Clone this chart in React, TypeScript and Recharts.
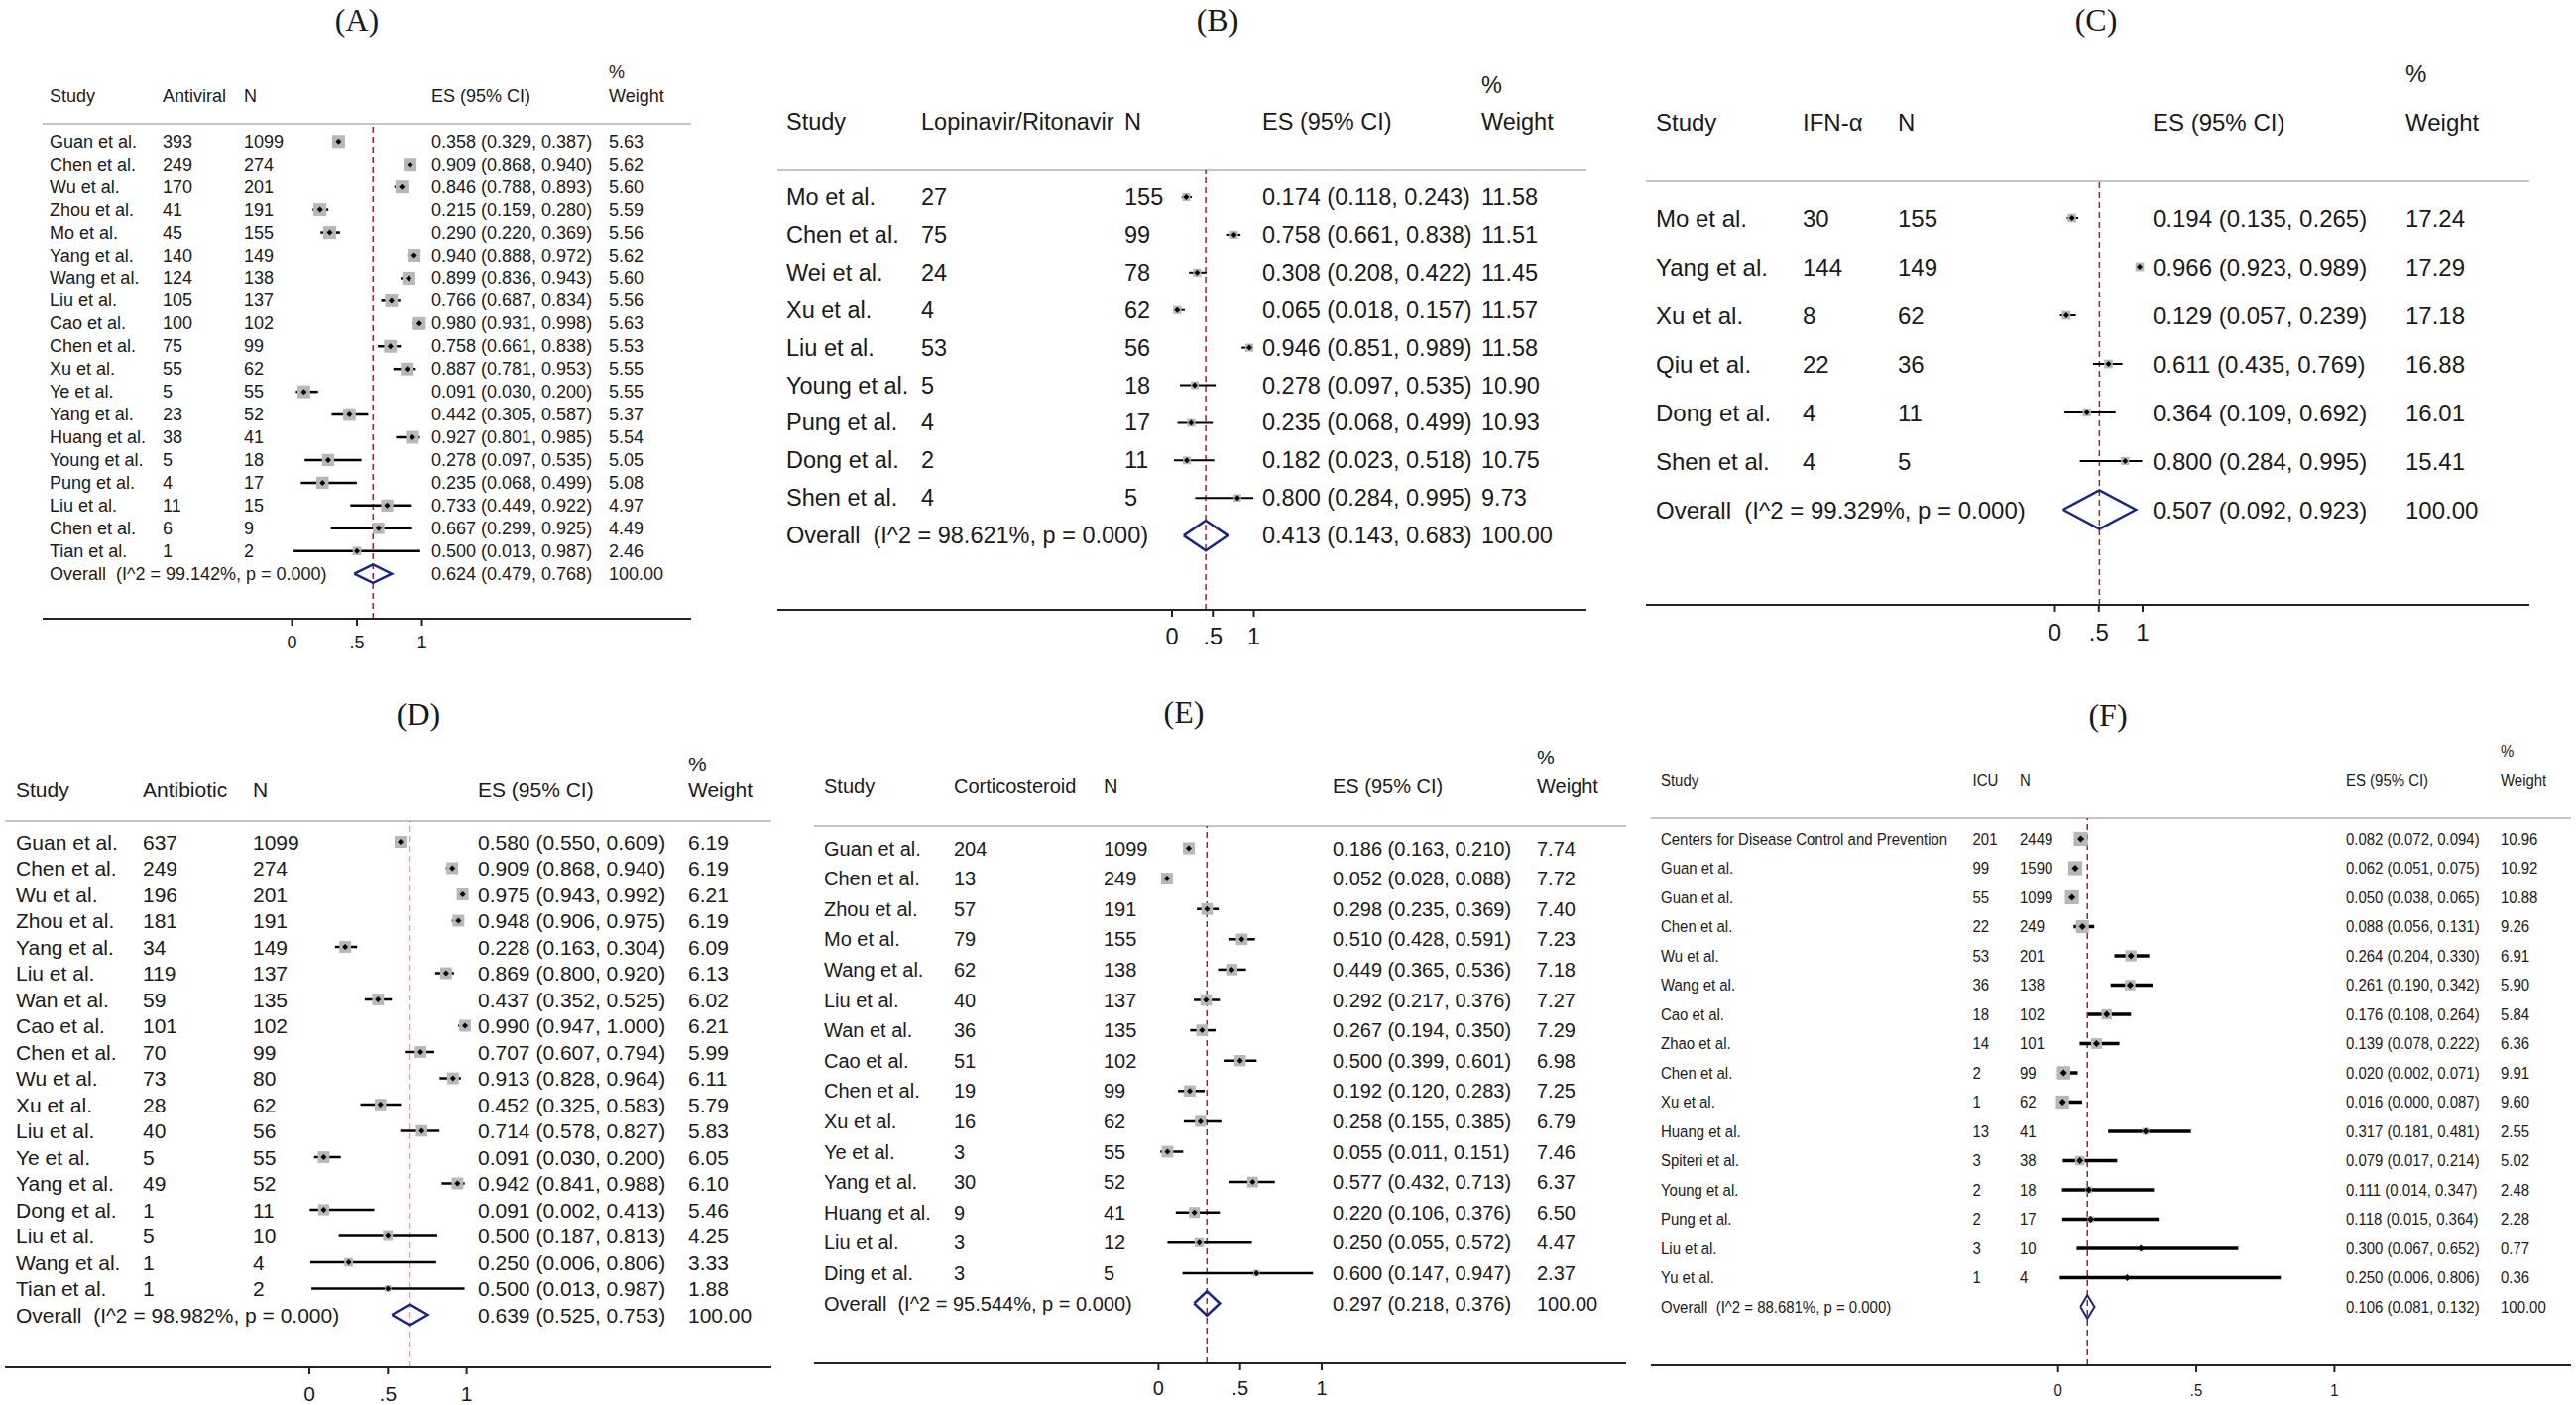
import React from "react";
import { ComposedChart, Scatter, XAxis, YAxis, ErrorBar, ReferenceLine } from "recharts";

// (A) Antiviral
const studiesA = ["Guan et al.", "Chen et al.", "Wu et al.", "Zhou et al.", "Mo et al.", "Yang et al.", "Wang et al.", "Liu et al.", "Cao et al.", "Chen et al.", "Xu et al.", "Ye et al.", "Yang et al.", "Huang et al.", "Young et al.", "Pung et al.", "Liu et al.", "Chen et al.", "Tian et al."];
const eventsA = [393, 249, 170, 41, 45, 140, 124, 105, 100, 75, 55, 5, 23, 38, 5, 4, 11, 6, 1];
const totalsA = [1099, 274, 201, 191, 155, 149, 138, 137, 102, 99, 62, 55, 52, 41, 18, 17, 15, 9, 2];
const esA = [0.358, 0.909, 0.846, 0.215, 0.29, 0.94, 0.899, 0.766, 0.98, 0.758, 0.887, 0.091, 0.442, 0.927, 0.278, 0.235, 0.733, 0.667, 0.5];
const lowA = [0.329, 0.868, 0.788, 0.159, 0.22, 0.888, 0.836, 0.687, 0.931, 0.661, 0.781, 0.03, 0.305, 0.801, 0.097, 0.068, 0.449, 0.299, 0.013];
const highA = [0.387, 0.94, 0.893, 0.28, 0.369, 0.972, 0.943, 0.834, 0.998, 0.838, 0.953, 0.2, 0.587, 0.985, 0.535, 0.499, 0.922, 0.925, 0.987];
const weightA = [5.63, 5.62, 5.6, 5.59, 5.56, 5.62, 5.6, 5.56, 5.63, 5.53, 5.55, 5.55, 5.37, 5.54, 5.05, 5.08, 4.97, 4.49, 2.46];
const overallA = [0.624, 0.479, 0.768];
const i2A = "99.142";

// (B) Lopinavir/Ritonavir
const studiesB = ["Mo et al.", "Chen et al.", "Wei et al.", "Xu et al.", "Liu et al.", "Young et al.", "Pung et al.", "Dong et al.", "Shen et al."];
const eventsB = [27, 75, 24, 4, 53, 5, 4, 2, 4];
const totalsB = [155, 99, 78, 62, 56, 18, 17, 11, 5];
const esB = [0.174, 0.758, 0.308, 0.065, 0.946, 0.278, 0.235, 0.182, 0.8];
const lowB = [0.118, 0.661, 0.208, 0.018, 0.851, 0.097, 0.068, 0.023, 0.284];
const highB = [0.243, 0.838, 0.422, 0.157, 0.989, 0.535, 0.499, 0.518, 0.995];
const weightB = [11.58, 11.51, 11.45, 11.57, 11.58, 10.9, 10.93, 10.75, 9.73];
const overallB = [0.413, 0.143, 0.683];
const i2B = "98.621";

// (C) IFN-α
const studiesC = ["Mo et al.", "Yang et al.", "Xu et al.", "Qiu et al.", "Dong et al.", "Shen et al."];
const eventsC = [30, 144, 8, 22, 4, 4];
const totalsC = [155, 149, 62, 36, 11, 5];
const esC = [0.194, 0.966, 0.129, 0.611, 0.364, 0.8];
const lowC = [0.135, 0.923, 0.057, 0.435, 0.109, 0.284];
const highC = [0.265, 0.989, 0.239, 0.769, 0.692, 0.995];
const weightC = [17.24, 17.29, 17.18, 16.88, 16.01, 15.41];
const overallC = [0.507, 0.092, 0.923];
const i2C = "99.329";

// (D) Antibiotic
const studiesD = ["Guan et al.", "Chen et al.", "Wu et al.", "Zhou et al.", "Yang et al.", "Liu et al.", "Wan et al.", "Cao et al.", "Chen et al.", "Wu et al.", "Xu et al.", "Liu et al.", "Ye et al.", "Yang et al.", "Dong et al.", "Liu et al.", "Wang et al.", "Tian et al."];
const eventsD = [637, 249, 196, 181, 34, 119, 59, 101, 70, 73, 28, 40, 5, 49, 1, 5, 1, 1];
const totalsD = [1099, 274, 201, 191, 149, 137, 135, 102, 99, 80, 62, 56, 55, 52, 11, 10, 4, 2];
const esD = [0.58, 0.909, 0.975, 0.948, 0.228, 0.869, 0.437, 0.99, 0.707, 0.913, 0.452, 0.714, 0.091, 0.942, 0.091, 0.5, 0.25, 0.5];
const lowD = [0.55, 0.868, 0.943, 0.906, 0.163, 0.8, 0.352, 0.947, 0.607, 0.828, 0.325, 0.578, 0.03, 0.841, 0.002, 0.187, 0.006, 0.013];
const highD = [0.609, 0.94, 0.992, 0.975, 0.304, 0.92, 0.525, 1.0, 0.794, 0.964, 0.583, 0.827, 0.2, 0.988, 0.413, 0.813, 0.806, 0.987];
const weightD = [6.19, 6.19, 6.21, 6.19, 6.09, 6.13, 6.02, 6.21, 5.99, 6.11, 5.79, 5.83, 6.05, 6.1, 5.46, 4.25, 3.33, 1.88];
const overallD = [0.639, 0.525, 0.753];
const i2D = "98.982";

// (E) Corticosteroid
const studiesE = ["Guan et al.", "Chen et al.", "Zhou et al.", "Mo et al.", "Wang et al.", "Liu et al.", "Wan et al.", "Cao et al.", "Chen et al.", "Xu et al.", "Ye et al.", "Yang et al.", "Huang et al.", "Liu et al.", "Ding et al."];
const eventsE = [204, 13, 57, 79, 62, 40, 36, 51, 19, 16, 3, 30, 9, 3, 3];
const totalsE = [1099, 249, 191, 155, 138, 137, 135, 102, 99, 62, 55, 52, 41, 12, 5];
const esE = [0.186, 0.052, 0.298, 0.51, 0.449, 0.292, 0.267, 0.5, 0.192, 0.258, 0.055, 0.577, 0.22, 0.25, 0.6];
const lowE = [0.163, 0.028, 0.235, 0.428, 0.365, 0.217, 0.194, 0.399, 0.12, 0.155, 0.011, 0.432, 0.106, 0.055, 0.147];
const highE = [0.21, 0.088, 0.369, 0.591, 0.536, 0.376, 0.35, 0.601, 0.283, 0.385, 0.151, 0.713, 0.376, 0.572, 0.947];
const weightE = [7.74, 7.72, 7.4, 7.23, 7.18, 7.27, 7.29, 6.98, 7.25, 6.79, 7.46, 6.37, 6.5, 4.47, 2.37];
const overallE = [0.297, 0.218, 0.376];
const i2E = "95.544";

// (F) ICU
const studiesF = ["Centers for Disease Control and Prevention", "Guan et al.", "Guan et al.", "Chen et al.", "Wu et al.", "Wang et al.", "Cao et al.", "Zhao et al.", "Chen et al.", "Xu et al.", "Huang et al.", "Spiteri et al.", "Young et al.", "Pung et al.", "Liu et al.", "Yu et al."];
const eventsF = [201, 99, 55, 22, 53, 36, 18, 14, 2, 1, 13, 3, 2, 2, 3, 1];
const totalsF = [2449, 1590, 1099, 249, 201, 138, 102, 101, 99, 62, 41, 38, 18, 17, 10, 4];
const esF = [0.082, 0.062, 0.05, 0.088, 0.264, 0.261, 0.176, 0.139, 0.02, 0.016, 0.317, 0.079, 0.111, 0.118, 0.3, 0.25];
const lowF = [0.072, 0.051, 0.038, 0.056, 0.204, 0.19, 0.108, 0.078, 0.002, 0.0, 0.181, 0.017, 0.014, 0.015, 0.067, 0.006];
const highF = [0.094, 0.075, 0.065, 0.131, 0.33, 0.342, 0.264, 0.222, 0.071, 0.087, 0.481, 0.214, 0.347, 0.364, 0.652, 0.806];
const weightF = [10.96, 10.92, 10.88, 9.26, 6.91, 5.9, 5.84, 6.36, 9.91, 9.6, 2.55, 5.02, 2.48, 2.28, 0.77, 0.36];
const overallF = [0.106, 0.081, 0.132];
const i2F = "88.681";

const pValue = "0.000";
const xTicks = [0, 0.5, 1];

const SANS = "'Liberation Sans', Arial, Helvetica, sans-serif";
const SERIF = "'Liberation Serif', 'Times New Roman', serif";
const INK = "#1a1a1a";

type Layout = {
  left: number; right: number; top: number; bottom: number;
  headY: number; axisY: number; row0: number; rowGap: number;
  zeroX: number; unit: number; cols: number[];
  headerY: number; pctY: number; titleX: number; titleY: number; tickY: number;
  font: number; squeeze: number; boxK: number; ciW: number; dot: number; diaW: number;
};

type Panel = {
  title: string; group: string; studies: string[]; events: number[]; totals: number[];
  es: number[]; low: number[]; high: number[]; weight: number[]; overall: number[]; i2: string;
  layout: Layout;
};

const Txt = ({ x, y, size, squeeze = 1, anchor = "start", family = SANS, children }: any) => (
  <text
    transform={`translate(${x},${y}) scale(${squeeze},1)`}
    fontSize={size}
    fontFamily={family}
    fill={INK}
    textAnchor={anchor}
    dominantBaseline="central"
    style={{ whiteSpace: "pre" }}
  >
    {children}
  </text>
);

const Forest = ({ p }: { p: Panel }) => {
  const L = p.layout;
  const W = L.right - L.left;
  const H = L.bottom - L.top;
  const n = p.studies.length;
  const fmt = (v: number) => v.toFixed(3);

  const rows = p.studies.map((s, i) => ({
    x: p.es[i],
    y: i,
    study: s,
    ev: String(p.events[i]),
    tot: String(p.totals[i]),
    ci: `${fmt(p.es[i])} (${fmt(p.low[i])}, ${fmt(p.high[i])})`,
    wt: p.weight[i].toFixed(2),
    w: p.weight[i],
    err: [p.es[i] - p.low[i], p.high[i] - p.es[i]],
  }));
  const [oe, ol, oh] = p.overall;
  const labelRows = [
    ...rows,
    { x: oe, y: n, study: `Overall  (I^2 = ${p.i2}%, p = ${pValue})`, ev: "", tot: "", ci: `${fmt(oe)} (${fmt(ol)}, ${fmt(oh)})`, wt: "100.00" },
  ];
  const diamond = [
    { x: ol, y: n },
    { x: oe, y: n - 0.4 },
    { x: oh, y: n },
    { x: oe, y: n + 0.4 },
    { x: ol, y: n },
  ];

  const xDomain = [(L.left - L.zeroX) / L.unit, (L.right - L.zeroX) / L.unit];
  const yDomain = [(L.headY - L.row0) / L.rowGap, (L.axisY - L.row0) / L.rowGap];
  const col = L.cols.map((c) => c - L.left);
  const fs = L.font;
  const sq = L.squeeze;

  const labelShape = (props: any) => {
    const { cy, payload } = props;
    return (
      <g>
        <Txt x={col[0]} y={cy} size={fs} squeeze={sq}>{payload.study}</Txt>
        <Txt x={col[1]} y={cy} size={fs} squeeze={sq}>{payload.ev}</Txt>
        <Txt x={col[2]} y={cy} size={fs} squeeze={sq}>{payload.tot}</Txt>
        <Txt x={col[3]} y={cy} size={fs} squeeze={sq}>{payload.ci}</Txt>
        <Txt x={col[4]} y={cy} size={fs} squeeze={sq}>{payload.wt}</Txt>
      </g>
    );
  };

  const boxShape = (props: any) => {
    const { cx, cy, payload } = props;
    const s = L.boxK * Math.sqrt(payload.w);
    return <rect x={cx - s / 2} y={cy - s / 2} width={s} height={s} fill="#b7b7b7" />;
  };

  const dotShape = (props: any) => {
    const { cx, cy } = props;
    const d = L.dot;
    return <polygon points={`${cx - d},${cy} ${cx},${cy - d} ${cx + d},${cy} ${cx},${cy + d}`} fill="#000" />;
  };

  const tick = (t: any) => (
    <Txt x={t.x} y={t.y} size={fs} squeeze={sq} anchor="middle">
      {t.payload.value === 0.5 ? ".5" : String(t.payload.value)}
    </Txt>
  );

  return (
    <div style={{ position: "absolute", left: L.left, top: L.top, width: W, height: H }}>
      <ComposedChart width={W} height={H} margin={{ top: L.headY - L.top, right: 0, bottom: 0, left: 0 }}>
        <XAxis
          type="number"
          dataKey="x"
          domain={xDomain}
          allowDataOverflow
          ticks={xTicks}
          interval={0}
          height={L.bottom - L.axisY}
          tickSize={7}
          tickMargin={L.tickY - L.axisY - 7}
          axisLine={{ stroke: "#222", strokeWidth: 2 }}
          tickLine={{ stroke: "#222", strokeWidth: 2 }}
          tick={tick}
        />
        <YAxis type="number" dataKey="y" domain={yDomain} allowDataOverflow reversed hide />
        <ReferenceLine y={yDomain[0]} ifOverflow="visible" stroke="#c4c4c4" strokeWidth={2} />
        <ReferenceLine x={oe} ifOverflow="visible" stroke="#9b2335" strokeWidth={1.5} strokeDasharray="6 4" />
        <Scatter data={labelRows} shape={labelShape} isAnimationActive={false} />
        <Scatter data={rows} shape={boxShape} isAnimationActive={false} />
        <Scatter data={rows} shape={dotShape} isAnimationActive={false}>
          <ErrorBar dataKey="err" direction="x" width={0} stroke="#000" strokeWidth={L.ciW} isAnimationActive={false} />
        </Scatter>
        <Scatter
          data={diamond}
          line={{ stroke: "#1c2580", strokeWidth: L.diaW }}
          lineJointType="linear"
          shape={() => <g />}
          isAnimationActive={false}
        />
      </ComposedChart>
      <svg width={W} height={H} style={{ position: "absolute", left: 0, top: 0, pointerEvents: "none" }}>
        <Txt x={L.titleX - L.left} y={L.titleY - L.top} size={32} family={SERIF} anchor="middle">{p.title}</Txt>
        <Txt x={col[0]} y={L.headerY - L.top} size={fs} squeeze={sq}>Study</Txt>
        <Txt x={col[1]} y={L.headerY - L.top} size={fs} squeeze={sq}>{p.group}</Txt>
        <Txt x={col[2]} y={L.headerY - L.top} size={fs} squeeze={sq}>N</Txt>
        <Txt x={col[3]} y={L.headerY - L.top} size={fs} squeeze={sq}>ES (95% CI)</Txt>
        <Txt x={col[4]} y={L.pctY - L.top} size={fs} squeeze={sq}>%</Txt>
        <Txt x={col[4]} y={L.headerY - L.top} size={fs} squeeze={sq}>Weight</Txt>
      </svg>
    </div>
  );
};

const layoutA: Layout = {
  left: 43, right: 697, top: 0, bottom: 675, headY: 125, axisY: 624, row0: 142.8, rowGap: 22.94,
  zeroX: 294.5, unit: 131, cols: [50, 164, 246, 435, 614], headerY: 97, pctY: 73, titleX: 360, titleY: 20,
  tickY: 648, font: 18, squeeze: 1, boxK: 5.5, ciW: 2.5, dot: 3, diaW: 2.5,
};
const layoutB: Layout = {
  left: 784, right: 1600, top: 0, bottom: 675, headY: 171, axisY: 615, row0: 199, rowGap: 37.9,
  zeroX: 1182, unit: 82.5, cols: [793, 929, 1134, 1273, 1494], headerY: 123, pctY: 86, titleX: 1228, titleY: 20,
  tickY: 642, font: 23.5, squeeze: 1, boxK: 2.4, ciW: 2, dot: 3, diaW: 2.5,
};
const layoutC: Layout = {
  left: 1660, right: 2551, top: 0, bottom: 675, headY: 183, axisY: 610, row0: 220, rowGap: 49,
  zeroX: 2072.5, unit: 88.5, cols: [1670, 1818, 1914, 2171, 2426], headerY: 123, pctY: 74, titleX: 2114, titleY: 20,
  tickY: 637, font: 24, squeeze: 1, boxK: 2.1, ciW: 2, dot: 3, diaW: 2.5,
};
const layoutD: Layout = {
  left: 5, right: 778, top: 690, bottom: 1417, headY: 828, axisY: 1379, row0: 849, rowGap: 26.5,
  zeroX: 312, unit: 158.6, cols: [16, 144, 255, 482, 694], headerY: 796, pctY: 770, titleX: 422, titleY: 720,
  tickY: 1405, font: 21, squeeze: 1, boxK: 4.8, ciW: 2.5, dot: 3, diaW: 2.5,
};
const layoutE: Layout = {
  left: 821, right: 1640, top: 690, bottom: 1417, headY: 833, axisY: 1375, row0: 855.5, rowGap: 30.6,
  zeroX: 1168.4, unit: 164.6, cols: [831, 962, 1113, 1344, 1550], headerY: 793, pctY: 764, titleX: 1194, titleY: 718,
  tickY: 1400, font: 20, squeeze: 1, boxK: 4.3, ciW: 2.5, dot: 3, diaW: 2.5,
};
const layoutF: Layout = {
  left: 1665, right: 2593, top: 690, bottom: 1417, headY: 825, axisY: 1377, row0: 846, rowGap: 29.5,
  zeroX: 2075.7, unit: 278.7, cols: [1675, 1989.5, 2037, 2366, 2522], headerY: 787, pctY: 757, titleX: 2126, titleY: 721,
  tickY: 1402, font: 17, squeeze: 0.88, boxK: 4.3, ciW: 3.5, dot: 3.5, diaW: 2,
};

const panels: Panel[] = [
  { title: "(A)", group: "Antiviral", studies: studiesA, events: eventsA, totals: totalsA, es: esA, low: lowA, high: highA, weight: weightA, overall: overallA, i2: i2A, layout: layoutA },
  { title: "(B)", group: "Lopinavir/Ritonavir", studies: studiesB, events: eventsB, totals: totalsB, es: esB, low: lowB, high: highB, weight: weightB, overall: overallB, i2: i2B, layout: layoutB },
  { title: "(C)", group: "IFN-α", studies: studiesC, events: eventsC, totals: totalsC, es: esC, low: lowC, high: highC, weight: weightC, overall: overallC, i2: i2C, layout: layoutC },
  { title: "(D)", group: "Antibiotic", studies: studiesD, events: eventsD, totals: totalsD, es: esD, low: lowD, high: highD, weight: weightD, overall: overallD, i2: i2D, layout: layoutD },
  { title: "(E)", group: "Corticosteroid", studies: studiesE, events: eventsE, totals: totalsE, es: esE, low: lowE, high: highE, weight: weightE, overall: overallE, i2: i2E, layout: layoutE },
  { title: "(F)", group: "ICU", studies: studiesF, events: eventsF, totals: totalsF, es: esF, low: lowF, high: highF, weight: weightF, overall: overallF, i2: i2F, layout: layoutF },
];

export default function App() {
  return (
    <div style={{ position: "absolute", left: 0, top: 0, width: 2598, height: 1417, background: "#fff", overflow: "hidden" }}>
      {panels.map((p) => (
        <Forest key={p.title} p={p} />
      ))}
    </div>
  );
}
